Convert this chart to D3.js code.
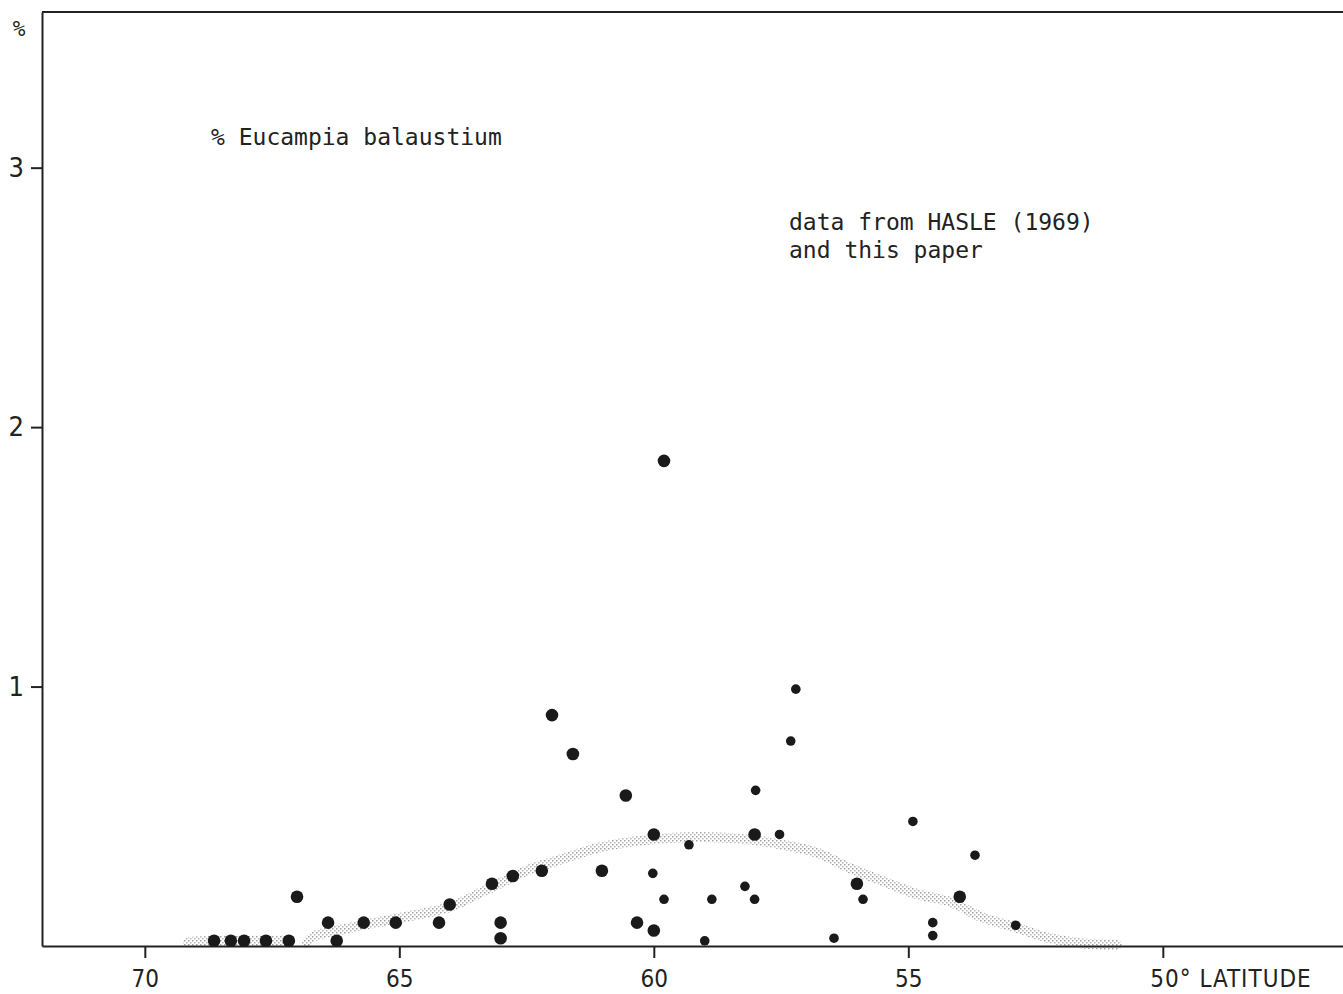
<!DOCTYPE html>
<html>
<head>
<meta charset="utf-8">
<script src="https://cdn.jsdelivr.net/npm/d3@7"></script>
<style>
  body { margin: 0; background: #fff; }
  svg { display: block; }
  .mono { font-family: 'DejaVu Sans Mono', monospace; fill: #222; }
  .axis text { font-family: 'Liberation Sans Narrow', 'DejaVu Sans Condensed', sans-serif; fill: #222; }
  .axis path, .axis line { stroke: #222; stroke-width: 2; }
</style>
</head>
<body>
<div id="chart"></div>
<script>
// larger dots
const latA = [68.64, 68.31, 68.05, 67.62, 67.17, 67.01, 66.40, 66.23, 65.70, 65.07,
  64.22, 64.01, 63.18, 63.01, 63.01, 62.77, 62.20, 62.00, 61.59, 61.02,
  60.55, 60.33, 60.00, 60.00, 59.80, 58.02, 56.01, 53.99];
const valA = [0.02, 0.02, 0.02, 0.02, 0.02, 0.19, 0.09, 0.02, 0.09, 0.09,
  0.09, 0.16, 0.24, 0.09, 0.03, 0.27, 0.29, 0.89, 0.74, 0.29,
  0.58, 0.09, 0.43, 0.06, 1.87, 0.43, 0.24, 0.19];
// smaller dots
const latB = [60.02, 59.80, 59.31, 59.00, 58.86, 58.21, 58.02, 58.00, 57.53, 57.31,
  57.21, 56.46, 55.89, 54.91, 54.52, 54.52, 53.69, 52.89];
const valB = [0.28, 0.18, 0.39, 0.02, 0.18, 0.23, 0.18, 0.60, 0.43, 0.79,
  0.99, 0.03, 0.18, 0.48, 0.09, 0.04, 0.35, 0.08];

// stippled trend band, two pieces
const trend1Lat = [69.15, 68.6, 68.0, 67.5, 67.15];
const trend1Val = [0.015, 0.02, 0.02, 0.02, 0.02];
const trend2Lat = [66.82, 66.70, 65.97, 64.93, 64.01, 63.36, 62.38, 62.04, 61.06, 60.08,
  59.10, 58.11, 57.47, 56.80, 56.15, 55.50, 54.83, 54.18, 53.54, 52.87,
  52.22, 51.57, 50.90];
const trend2Val = [0.01, 0.035, 0.07, 0.11, 0.15, 0.21, 0.30, 0.32, 0.38, 0.41,
  0.42, 0.41, 0.39, 0.36, 0.30, 0.25, 0.20, 0.17, 0.11, 0.07,
  0.03, 0.01, 0.005];

const xTicks = [70, 65, 60, 55, 50];
const yTicks = [1, 2, 3];

const w = 1343;
const h = 994;

const x = d3.scaleLinear().domain([72.02, 46.46]).range([42, 1343]);
const y = d3.scaleLinear().domain([0, 3.6]).range([946, 12]);

const svg = d3.select('#chart').
append('svg').
attr('width', w).
attr('height', h);

const defs = svg.append('defs');
const pat = defs.append('pattern').
attr('id', 'stip').
attr('patternUnits', 'userSpaceOnUse').
attr('width', 4).
attr('height', 4);
pat.append('rect').attr('x', 0).attr('y', 0).attr('width', 1.5).attr('height', 1.5).attr('fill', '#a0a0a0');
pat.append('rect').attr('x', 2).attr('y', 2).attr('width', 1.5).attr('height', 1.5).attr('fill', '#b4b4b4');

// top frame line
svg.append('line').
attr('x1', x.range()[0]).attr('x2', x.range()[1]).
attr('y1', y(3.6)).attr('y2', y(3.6)).
attr('stroke', '#222').attr('stroke-width', 2);

// trend band
const line = d3.line().
x(d => x(d[0])).
y(d => y(d[1])).
curve(d3.curveCatmullRom);

[[trend1Lat, trend1Val], [trend2Lat, trend2Val]].forEach(function (t) {
  svg.append('path').
  attr('d', line(t[0].map((d, i) => [d, t[1][i]]))).
  attr('fill', 'none').
  attr('stroke', 'url(#stip)').
  attr('stroke-width', 10).
  attr('stroke-linecap', 'round');
});

const xAxis = d3.axisBottom(x).
tickValues(xTicks).
tickSize(12).
tickSizeOuter(0).
tickPadding(12).
tickFormat(d => d === 50 ? '50\u00b0 LATITUDE' : d);

const yAxis = d3.axisLeft(y).
tickValues(yTicks).
tickSize(11).
tickSizeOuter(0).
tickPadding(7).
tickFormat(d3.format('d'));

const gx = svg.append('g').
attr('class', 'axis').
attr('transform', 'translate(0,' + y(0) + ')').
call(xAxis);
gx.selectAll('text').style('font-size', '24px');
gx.selectAll('.tick').filter(d => d === 50).select('text').
attr('text-anchor', 'start').
attr('x', -13).
style('letter-spacing', '1px');

const gy = svg.append('g').
attr('class', 'axis').
attr('transform', 'translate(' + x.range()[0] + ',0)').
call(yAxis);
gy.selectAll('text').style('font-size', '27px');

svg.append('text').
attr('class', 'mono').
attr('x', 19).
attr('y', 36).
attr('text-anchor', 'middle').
style('font-size', '21px').
text('%');

// dots
svg.selectAll('circle.a').
data(latA).
enter().
append('circle').
attr('class', 'a').
attr('cx', d => x(d)).
attr('cy', (d, i) => y(valA[i])).
attr('r', 6.3).
attr('fill', '#1a1a1a');

svg.selectAll('circle.b').
data(latB).
enter().
append('circle').
attr('class', 'b').
attr('cx', d => x(d)).
attr('cy', (d, i) => y(valB[i])).
attr('r', 4.8).
attr('fill', '#1a1a1a');

svg.append('text').
attr('class', 'mono').
attr('x', 211).
attr('y', 145).
style('font-size', '23px').
text('% Eucampia balaustium');

svg.append('text').
attr('class', 'mono').
attr('x', 789).
attr('y', 230).
style('font-size', '23px').
text('data from HASLE (1969)');

svg.append('text').
attr('class', 'mono').
attr('x', 789).
attr('y', 258).
style('font-size', '23px').
text('and this paper');
</script>
</body>
</html>
